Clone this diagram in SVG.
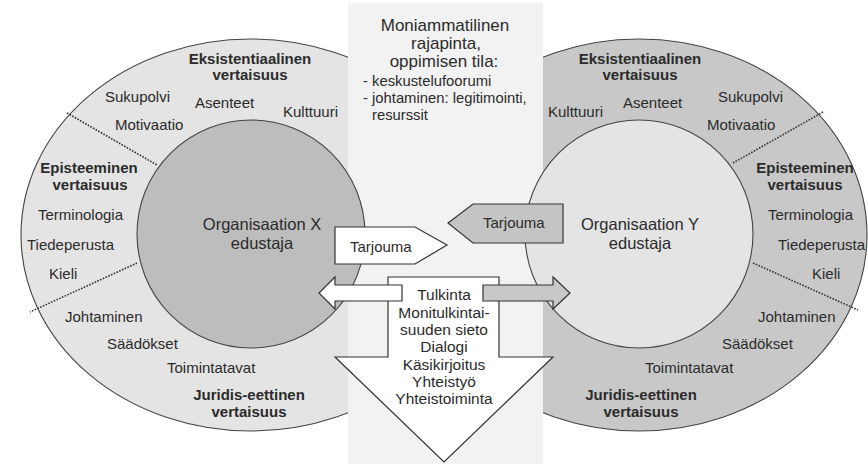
<svg xmlns="http://www.w3.org/2000/svg" width="868" height="464" viewBox="0 0 868 464">
<style>
text{font-family:"Liberation Sans",Arial,sans-serif;fill:#2b2b2b;font-size:15px}
.b{font-weight:bold}
.m{text-anchor:middle}
.big{font-size:17px}
.org{font-size:16.5px}
.bul{font-size:14.8px}
.arr{font-size:15.5px}
.edge{stroke:#444;stroke-width:1.1}
.dot{stroke:#333;stroke-width:1.6;stroke-dasharray:1.6 1.4;fill:none}
.shape{stroke:#333;stroke-width:1.2}
</style>
<rect width="868" height="464" fill="#ffffff"/>
<g id="ellipse-left">
<ellipse cx="251" cy="235" rx="230" ry="196" fill="#e4e4e4" class="edge"/>
<line x1="67" y1="113" x2="157" y2="165" class="dot"/>
<line x1="137" y1="263" x2="30" y2="312" class="dot"/>
</g>
<g id="ellipse-right">
<ellipse cx="639" cy="235" rx="228" ry="196" fill="#c8c8c8" class="edge"/>
<line x1="823" y1="112" x2="733" y2="163" class="dot"/>
<line x1="753" y1="263" x2="858" y2="310" class="dot"/>
</g>
<g id="band">
<rect x="348" y="3" width="195" height="461" fill="#f2f2f2"/>
</g>
<g id="circle-left">
<circle cx="251" cy="234" r="114" fill="#bdbdbd" class="edge"/>
</g>
<g id="circle-right">
<circle cx="639" cy="234" r="114" fill="#e4e4e4" class="edge"/>
</g>
<g id="connectors">
<polygon id="down-arrow" points="388,277 499,277 499,357 553,357 444,462 335,357 388,357" fill="#ffffff" class="shape"/>
<polygon id="arrow-left" points="402,285 335,285 335,277 319,293 335,309 335,301 402,301" fill="#ffffff" class="shape"/>
<polygon id="arrow-right" points="483,285 553,285 553,277 570,293 553,309 553,301 483,301" fill="#c8c8c8" class="shape"/>
<polygon id="tarjouma-left" points="335,227 415,227 447,245 415,264 335,264" fill="#ffffff" class="shape"/>
<polygon id="tarjouma-right" points="448,223 473,204 563,204 563,243 473,243" fill="#c4c4c4" class="shape"/>
</g>
<g id="left-texts">
<text class="b m" x="250" y="64">Eksistentiaalinen</text>
<text class="b m" x="250" y="80">vertaisuus</text>
<text x="105" y="102">Sukupolvi</text>
<text x="195" y="108">Asenteet</text>
<text x="283" y="117">Kulttuuri</text>
<text x="115" y="130">Motivaatio</text>
<text class="b m" x="89" y="173">Episteeminen</text>
<text class="b m" x="90" y="190">vertaisuus</text>
<text x="38" y="220">Terminologia</text>
<text x="27" y="250">Tiedeperusta</text>
<text x="49" y="279">Kieli</text>
<text x="65" y="322">Johtaminen</text>
<text x="107" y="349">Säädökset</text>
<text x="167" y="373">Toimintatavat</text>
<text class="b m" x="249" y="400">Juridis-eettinen</text>
<text class="b m" x="249" y="417">vertaisuus</text>
</g>
<g id="org-x">
<text class="m org" x="262" y="230">Organisaation X</text>
<text class="m org" x="262" y="249">edustaja</text>
</g>
<g id="right-texts">
<text class="b m" x="640" y="64">Eksistentiaalinen</text>
<text class="b m" x="640" y="80">vertaisuus</text>
<text x="548" y="117">Kulttuuri</text>
<text x="623" y="108">Asenteet</text>
<text x="718" y="102">Sukupolvi</text>
<text x="707" y="130">Motivaatio</text>
<text class="b m" x="805" y="173">Episteeminen</text>
<text class="b m" x="805" y="190">vertaisuus</text>
<text x="768" y="220">Terminologia</text>
<text x="778" y="250">Tiedeperusta</text>
<text x="812" y="279">Kieli</text>
<text x="758" y="322">Johtaminen</text>
<text x="722" y="349">Säädökset</text>
<text x="645" y="373">Toimintatavat</text>
<text class="b m" x="641" y="400">Juridis-eettinen</text>
<text class="b m" x="641" y="417">vertaisuus</text>
</g>
<g id="org-y">
<text class="m org" x="640" y="230">Organisaation Y</text>
<text class="m org" x="640" y="249">edustaja</text>
</g>
<g id="interface">
<text class="m big" x="445" y="31">Moniammatilinen</text>
<text class="m big" x="446" y="49">rajapinta,</text>
<text class="m big" x="444" y="67">oppimisen tila:</text>
<text class="bul" x="363" y="86">- keskustelufoorumi</text>
<text class="bul" x="363" y="103">- johtaminen: legitimointi,</text>
<text class="bul" x="372" y="120">resurssit</text>
</g>
<g id="tarjouma-labels">
<text x="350" y="252">Tarjouma</text>
<text x="483" y="228">Tarjouma</text>
</g>
<g id="arrow-texts">
<text class="m arr" x="444" y="300">Tulkinta</text>
<text class="m arr" x="444" y="318">Monitulkintai-</text>
<text class="m arr" x="444" y="335">suuden sieto</text>
<text class="m arr" x="444" y="352">Dialogi</text>
<text class="m arr" x="444" y="370">Käsikirjoitus</text>
<text class="m arr" x="444" y="387">Yhteistyö</text>
<text class="m arr" x="444" y="404">Yhteistoiminta</text>
</g>
</svg>
